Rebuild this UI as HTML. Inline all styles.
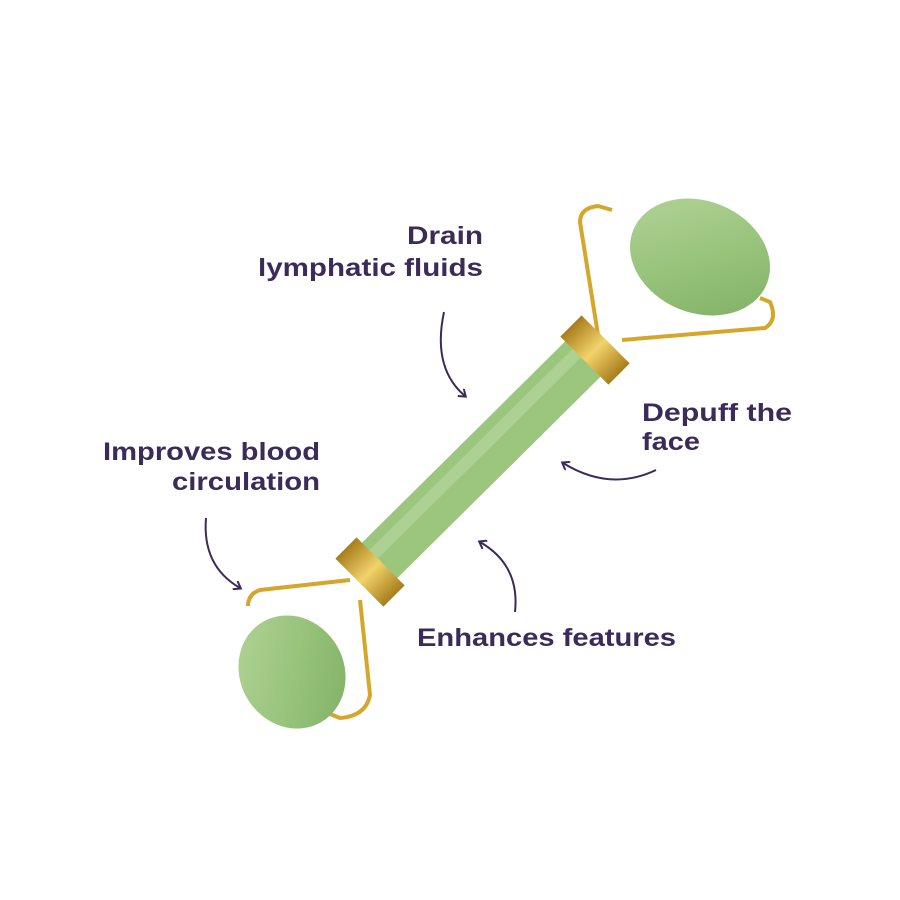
<!DOCTYPE html>
<html><head><meta charset="utf-8"><style>
html,body{margin:0;padding:0;background:#fff;}
svg{display:block}
text{font-family:"Liberation Sans",sans-serif;font-weight:bold;font-size:25px;fill:#3a2b58;}
</style></head><body>
<svg width="900" height="900" viewBox="0 0 900 900" xmlns="http://www.w3.org/2000/svg">
<defs>
<linearGradient id="jade" x1="0" y1="0" x2="1" y2="1">
<stop offset="0" stop-color="#b5d49a"/><stop offset="0.5" stop-color="#98c47c"/><stop offset="1" stop-color="#7fae62"/>
</linearGradient>
<linearGradient id="gold" x1="0" y1="0" x2="1" y2="0">
<stop offset="0" stop-color="#a77d1c"/><stop offset="0.5" stop-color="#f2d36a"/><stop offset="1" stop-color="#a77d1c"/>
</linearGradient>
<marker id="ah" markerWidth="10" markerHeight="10" refX="6" refY="5" orient="auto" markerUnits="userSpaceOnUse">
<path d="M0,0 L7,5 L0,10" fill="none" stroke="#3a2b58" stroke-width="2"/>
</marker>
</defs>
<rect width="900" height="900" fill="#fff"/>
<path d="M598,335 L580,222 Q580,208 598,206 L612,210" fill="none" stroke="#d4a72c" stroke-width="4"/>
<path d="M622,340 L765,328 Q778,320 770,302 L760,298" fill="none" stroke="#d4a72c" stroke-width="4"/>
<ellipse cx="700" cy="257" rx="72" ry="56" transform="rotate(22 700 257)" fill="url(#jade)"/>
<path d="M350,580 L260,590 Q248,594 248,606" fill="none" stroke="#d4a72c" stroke-width="4"/>
<path d="M360,600 L370,695 Q366,716 340,718 L325,712" fill="none" stroke="#d4a72c" stroke-width="4"/>
<ellipse cx="292" cy="672" rx="52" ry="58" transform="rotate(-30 292 672)" fill="url(#jade)"/>
<line x1="590" y1="352" x2="372" y2="568" stroke="#9cc67e" stroke-width="50"/>
<line x1="585" y1="345" x2="366" y2="562" stroke="#b9d9a0" stroke-width="12" opacity="0.6"/>
<g transform="translate(595,350) rotate(45)"><rect x="-34" y="-15" width="68" height="30" fill="url(#gold)"/></g>
<g transform="translate(370,572) rotate(45)"><rect x="-34" y="-15" width="68" height="30" fill="url(#gold)"/></g>
<text x="407" y="244" textLength="76" lengthAdjust="spacingAndGlyphs">Drain</text>
<text x="258" y="276" textLength="225" lengthAdjust="spacingAndGlyphs">lymphatic fluids</text>
<text x="642" y="421" textLength="150" lengthAdjust="spacingAndGlyphs">Depuff the</text>
<text x="642" y="450" textLength="58" lengthAdjust="spacingAndGlyphs">face</text>
<text x="103" y="460" textLength="217" lengthAdjust="spacingAndGlyphs">Improves blood</text>
<text x="172" y="490" textLength="148" lengthAdjust="spacingAndGlyphs">circulation</text>
<text x="417" y="646" textLength="259" lengthAdjust="spacingAndGlyphs">Enhances features</text>
<g fill="none" stroke="#3a2b58" stroke-width="2">
<path d="M444,312 Q432,368 465,396" marker-end="url(#ah)"/>
<path d="M656,470 Q610,492 563,463" marker-end="url(#ah)"/>
<path d="M206,518 Q202,566 240,588" marker-end="url(#ah)"/>
<path d="M515,612 Q520,565 480,542" marker-end="url(#ah)"/>
</g>
</svg>
</body></html>
